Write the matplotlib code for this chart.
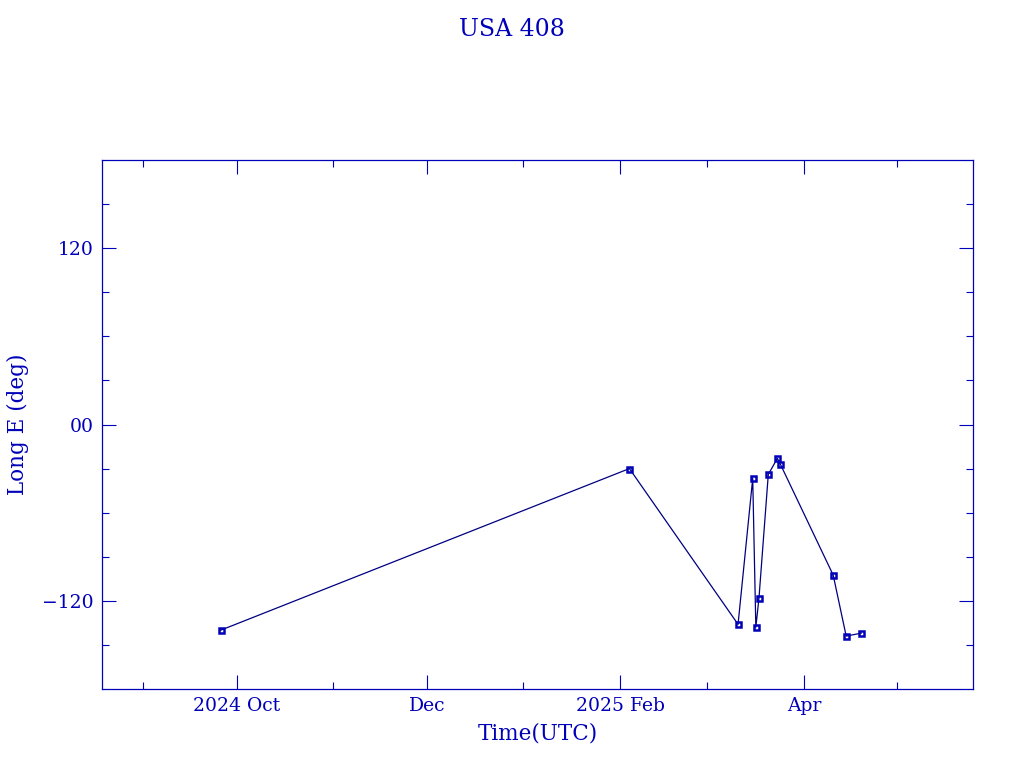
import pandas as pd
import matplotlib
matplotlib.use("Agg")
import matplotlib.pyplot as plt
import matplotlib.dates as mdates
from matplotlib.ticker import FixedLocator, FixedFormatter

# data
times = pd.to_datetime([
    "2024-09-25 19:00", "2025-02-04 00:00", "2025-03-10 21:00",
    "2025-03-15 14:00", "2025-03-16 14:00", "2025-03-17 14:00",
    "2025-03-20 14:00", "2025-03-23 12:00", "2025-03-24 12:00",
    "2025-04-10 10:00", "2025-04-14 14:00", "2025-04-19 10:00",
])
long_e = [-140, -30, -136, -36.7, -138, -118.3, -34, -23, -27.2, -102.5, -144, -142]

major_ticks = pd.to_datetime(["2024-10-01", "2024-12-01", "2025-02-01", "2025-04-01"])
major_labels = ["2024 Oct", "Dec", "2025 Feb", "Apr"]
minor_ticks = pd.to_datetime(["2024-09-01", "2024-11-01", "2025-01-01", "2025-03-01", "2025-05-01"])
y_ticks = [-120, 0, 120]
y_labels = ["\u2212120", "00", "120"]

blue = "#0000b8"
plt.rcParams["font.family"] = ["DejaVu Serif"]

fig = plt.figure(figsize=(10.24, 7.68), dpi=100)
ax = fig.add_axes([102 / 1024, 79 / 768, 871 / 1024, 529 / 768])

ax.plot(times, long_e, color="#000080", linewidth=0.9,
        marker="s", markersize=3.6, markerfacecolor="none",
        markeredgecolor=blue, markeredgewidth=1.8)

ax.set_xlim(pd.Timestamp("2024-08-18 17:00"), pd.Timestamp("2025-05-25 07:00"))
ax.set_ylim(-180, 180)

ax.xaxis.set_major_locator(FixedLocator(mdates.date2num(major_ticks)))
ax.xaxis.set_major_formatter(FixedFormatter(major_labels))
ax.xaxis.set_minor_locator(FixedLocator(mdates.date2num(minor_ticks)))
ax.yaxis.set_major_locator(FixedLocator(y_ticks))
ax.yaxis.set_major_formatter(FixedFormatter(y_labels))
ax.yaxis.set_minor_locator(FixedLocator(range(-150, 180, 30)))

ax.tick_params(which="both", direction="in", top=True, right=True, colors=blue,
               labelcolor=blue, labelsize=13.5, width=0.8)
ax.tick_params(which="major", length=10, pad=6)
ax.tick_params(which="minor", length=5)
for s in ax.spines.values():
    s.set_color(blue)
    s.set_linewidth(0.9)

ax.set_xlabel("Time(UTC)", color=blue, fontsize=15.5, labelpad=5)
ax.set_ylabel("Long E (deg)", color=blue, fontsize=15.5)
ax.yaxis.set_label_coords(-0.084, 0.5)
fig.text(0.5, 1 - 30 / 768, "USA 408", color=blue, fontsize=17,
         ha="center", va="center")

fig.savefig("out.png", dpi=100)
